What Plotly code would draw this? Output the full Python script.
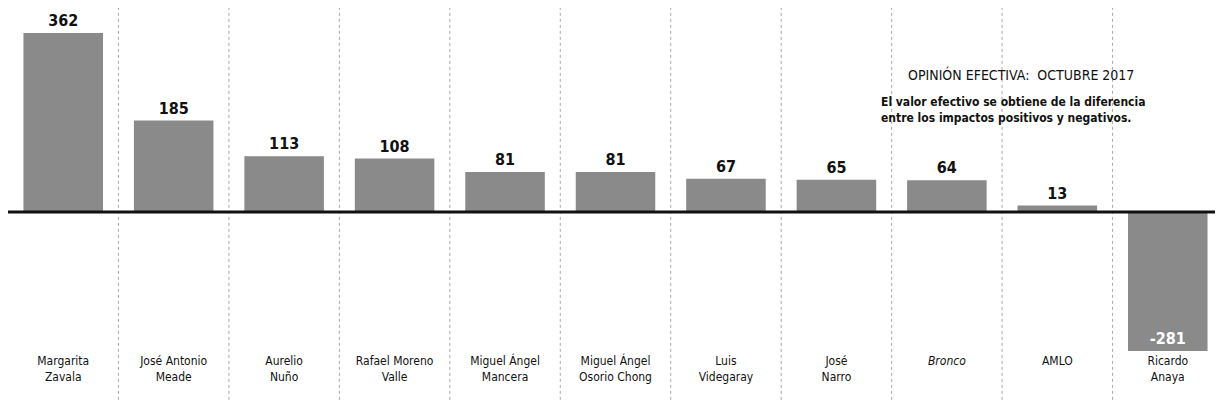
import plotly.graph_objects as go

candidates = ["Margarita<br>Zavala", "José Antonio<br>Meade", "Aurelio<br>Nuño",
              "Rafael Moreno<br>Valle", "Miguel Ángel<br>Mancera", "Miguel Ángel<br>Osorio Chong",
              "Luis<br>Videgaray", "José<br>Narro", "<i>Bronco</i>", "AMLO", "Ricardo<br>Anaya"]
values = [362, 185, 113, 108, 81, 81, 67, 65, 64, 13, -281]

FONT = "DejaVu Sans Condensed, Liberation Sans Narrow, Roboto, sans-serif"
x = list(range(len(values)))

fig = go.Figure()
fig.add_trace(go.Bar(
    x=x, y=values, width=0.72,
    marker=dict(color="#8a8a8a", line=dict(width=0)),
    text=["<b>%d</b>" % v for v in values],
    textposition=["outside" if v >= 0 else "inside" for v in values],
    insidetextanchor="end",
    textangle=0,
    textfont=dict(family=FONT, size=16, color=["#111" if v >= 0 else "white" for v in values]),
    cliponaxis=False,
    showlegend=False,
))

shapes = []
for i in range(len(values)):
    shapes.append(dict(type="line", xref="x", yref="paper", x0=i + 0.5, x1=i + 0.5,
                       y0=-0.14, y1=1.03, line=dict(color="#a8a8a8", width=1, dash="dot")))
shapes.append(dict(type="line", xref="paper", yref="y", x0=0, x1=1.01, y0=0, y1=0,
                   line=dict(color="#111", width=3)))

# The page body adds an 8 px margin, so the figure is sized to fill the rest of the window.
fig.update_layout(
    width=1215, height=401,
    margin=dict(l=0, r=0, t=2, b=57, autoexpand=False),
    paper_bgcolor="white", plot_bgcolor="white",
    font=dict(family=FONT, color="#111"),
    shapes=shapes,
    xaxis=dict(range=[-0.5, len(values) - 0.5], tickvals=x, ticktext=candidates,
               showgrid=False, zeroline=False, showline=False, ticks="", automargin=False,
               tickfont=dict(family=FONT, size=12, color="#111")),
    yaxis=dict(range=[-283.1, 408.5], visible=False, showgrid=False, zeroline=False,
               automargin=False),
    annotations=[
        dict(x=0.834, y=0.81, xref="paper", yref="paper", yanchor="middle", showarrow=False,
             xanchor="center",
             text="OPINIÓN EFECTIVA:  OCTUBRE 2017",
             font=dict(family=FONT, size=14, color="#111")),
        dict(x=0.717, y=0.758, xref="paper", yref="paper", yanchor="top", showarrow=False,
             xanchor="left", align="left",
             text="<b>El valor efectivo se obtiene de la diferencia<br>entre los impactos positivos y negativos.</b>",
             font=dict(family=FONT, size=12, color="#111")),
    ],
)

fig.write_html("out.html")
